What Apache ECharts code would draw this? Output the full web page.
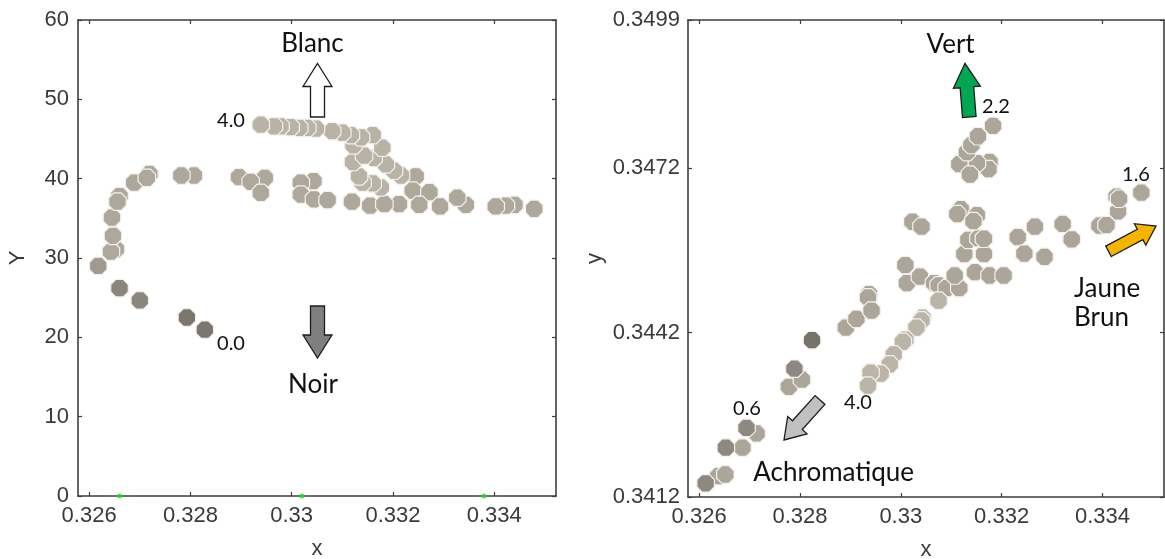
<!DOCTYPE html>
<html>
<head>
<meta charset="utf-8">
<script src="https://cdn.jsdelivr.net/npm/echarts@6/dist/echarts.min.js"></script>
<style>
  html, body { margin: 0; padding: 0; background: #ffffff; }
  #chart { width: 1165px; height: 559px; }
</style>
</head>
<body>
<div id="chart"></div>
<script>
// ---- tick labels ----
const xTicks = [0.326, 0.328, 0.33, 0.332, 0.334];
const yTicksRight = [0.3412, 0.3442, 0.3472, 0.3499];

// ---- left panel: luminance path (x, Y) ----
const leftDark = [[0.32793, 22.5], [0.328285, 20.96]];
const leftMid = [[0.3266, 26.2], [0.327, 24.65]];
const leftSoft = [[0.32618, 29.0]];
const leftBase = [
  [0.32653, 31.1], [0.32643, 30.8], [0.32647, 32.8], [0.32645, 35.1],
  [0.3266, 37.8], [0.32656, 37.1], [0.32689, 39.5], [0.32719, 40.6], [0.32714, 40.1],
  [0.32807, 40.4], [0.32782, 40.4], [0.32896, 40.2], [0.32947, 40.1], [0.32919, 39.6],
  [0.32939, 38.2], [0.33043, 39.7], [0.33018, 39.5], [0.33018, 38.0], [0.33044, 37.4],
  [0.33071, 37.3], [0.33119, 37.1], [0.33155, 36.6], [0.33212, 36.8], [0.33183, 36.8],
  [0.33245, 40.3], [0.33239, 38.5], [0.33272, 38.3], [0.33252, 36.7], [0.33293, 36.5],
  [0.33344, 36.7], [0.33327, 37.6], [0.33479, 36.2], [0.3344, 36.7], [0.33423, 36.6],
  [0.33403, 36.5]
];
const leftLight = [
  [0.33216, 40.4], [0.33202, 41.0], [0.33186, 41.8], [0.33176, 38.9], [0.3316, 39.4],
  [0.3314, 39.5], [0.33133, 40.3], [0.33121, 42.1], [0.33162, 42.6], [0.33143, 42.9],
  [0.33179, 43.9], [0.33122, 44.2], [0.3316, 45.5], [0.33137, 45.2], [0.33117, 45.5],
  [0.331, 45.8], [0.3308, 46.0], [0.33048, 46.3], [0.33031, 46.4], [0.33015, 46.4],
  [0.32998, 46.5], [0.32978, 46.6], [0.32965, 46.6], [0.32939, 46.8]
];
const leftAxisMarks = [[0.3266, 0], [0.3302, 0], [0.3338, 0]];

// ---- right panel: chromaticity path (x, y) ----
const rightDark = [[0.32824, 0.34406]];
const rightMid = [
  [0.32613, 0.34145], [0.32653, 0.3421], [0.32694, 0.34246], [0.32789, 0.34354]
];
const rightBase = [
  [0.32638, 0.34158], [0.32652, 0.34161], [0.32686, 0.3421], [0.32714, 0.34236],
  [0.32778, 0.34321], [0.32804, 0.34334], [0.32891, 0.34429], [0.32912, 0.34445],
  [0.32937, 0.3449], [0.32935, 0.34484], [0.32942, 0.3446], [0.33009, 0.34543],
  [0.33012, 0.3451], [0.33038, 0.34522], [0.33023, 0.34622], [0.33041, 0.34613],
  [0.33066, 0.3451], [0.33075, 0.34506], [0.33091, 0.34501], [0.33116, 0.34501],
  [0.33107, 0.34524], [0.33147, 0.3453], [0.33176, 0.34524], [0.33204, 0.34524],
  [0.33126, 0.34563], [0.33165, 0.34563], [0.33134, 0.34589], [0.33154, 0.34592],
  [0.33165, 0.34591], [0.33119, 0.34645], [0.33112, 0.34636], [0.33151, 0.34634],
  [0.33144, 0.34623], [0.33176, 0.34731], [0.33174, 0.34718], [0.33151, 0.34729],
  [0.33116, 0.34727], [0.33137, 0.34708], [0.33131, 0.34749], [0.3314, 0.34762],
  [0.33153, 0.34778], [0.33183, 0.34797],
  [0.33232, 0.34594], [0.33245, 0.34564], [0.33266, 0.34613], [0.33285, 0.34558],
  [0.33321, 0.34618], [0.33339, 0.3459], [0.33394, 0.34615], [0.33408, 0.34616],
  [0.33431, 0.34641], [0.33428, 0.34668], [0.33433, 0.34664], [0.33477, 0.34675]
];
const rightLight = [
  [0.33075, 0.34478], [0.33043, 0.34447], [0.33041, 0.34442], [0.33031, 0.34429],
  [0.33009, 0.34407], [0.33004, 0.34403], [0.32986, 0.3438], [0.32978, 0.34362],
  [0.3296, 0.34345], [0.3294, 0.34347], [0.32935, 0.34323]
];

// ---- styling ----
const AXIS_COLOR = '#3e3e3e';
const LABEL_COLOR = '#3a3a3a';
const LABEL_FONT = 'Liberation Sans';
const NOTE_FONT = 'Lato';
const OCTAGON = 'path://M29,0 L71,0 L100,29 L100,71 L71,100 L29,100 L0,71 L0,29 Z';
const X_MIN = 0.32578, X_MAX = 0.33522;

function frameAxis(gridIndex, pos, extra) {
  return Object.assign({
    type: 'value', gridIndex: gridIndex, position: pos,
    axisLine: { show: true, onZero: false, lineStyle: { color: AXIS_COLOR, width: 1.6 } },
    axisTick: { show: true, inside: true, length: 4, lineStyle: { color: AXIS_COLOR, width: 1.2 } },
    axisLabel: { show: false },
    splitLine: { show: false }
  }, extra);
}

function tickStyle(values) {
  const t = { show: true, inside: true, length: 4, lineStyle: { color: AXIS_COLOR, width: 1.2 } };
  if (values) t.customValues = values;
  return t;
}

const labelText = { color: LABEL_COLOR, fontFamily: LABEL_FONT, fontSize: 22 };

function xAxisPair(gridIndex) {
  return [
    frameAxis(gridIndex, 'bottom', {
      min: X_MIN, max: X_MAX,
      name: 'x', nameLocation: 'middle', nameGap: 42,
      nameTextStyle: labelText,
      axisTick: tickStyle(xTicks),
      axisLabel: Object.assign({ show: true, customValues: xTicks, margin: 9 }, labelText)
    }),
    frameAxis(gridIndex, 'top', {
      min: X_MIN, max: X_MAX,
      axisTick: tickStyle(xTicks)
    })
  ];
}

function scatter(data, color, gridIndex, z) {
  return {
    type: 'scatter', data: data, xAxisIndex: gridIndex * 2, yAxisIndex: gridIndex * 2,
    symbol: OCTAGON, symbolSize: 17.5,
    itemStyle: { color: color, borderColor: '#f4f1ec', borderWidth: 1.2, opacity: 1 },
    z: z || 2, silent: true, animation: false
  };
}

const chart = echarts.init(document.getElementById('chart'), null, { renderer: 'canvas' });

chart.setOption({
  backgroundColor: '#ffffff',
  animation: false,
  grid: [
    { left: 78, top: 20, width: 478, height: 476, outerBoundsMode: 'none', containLabel: false },
    { left: 688, top: 20, width: 476, height: 477, outerBoundsMode: 'none', containLabel: false }
  ],
  xAxis: [].concat(xAxisPair(0), xAxisPair(1)),
  yAxis: [
    frameAxis(0, 'left', {
      min: 0, max: 60, interval: 10,
      name: 'Y', nameLocation: 'middle', nameGap: 49,
      nameTextStyle: labelText,
      axisLabel: Object.assign({ show: true, margin: 9 }, labelText)
    }),
    frameAxis(0, 'right', { min: 0, max: 60, interval: 10 }),
    frameAxis(1, 'left', {
      min: 0.3412, max: 0.3499,
      name: 'y', nameLocation: 'middle', nameGap: 82,
      nameTextStyle: labelText,
      axisTick: tickStyle(yTicksRight),
      axisLabel: Object.assign({ show: true, customValues: yTicksRight, margin: 8,
        formatter: (v) => v.toFixed(4) }, labelText)
    }),
    frameAxis(1, 'right', {
      min: 0.3412, max: 0.3499,
      axisTick: tickStyle(yTicksRight)
    })
  ],
  series: [
    scatter(leftBase, '#aea79c', 0),
    scatter(leftSoft, '#a09a91', 0),
    scatter(leftMid, '#8a857d', 0),
    scatter(leftDark, '#7b766e', 0),
    scatter(leftLight, '#b9b2a7', 0, 3),
    {
      type: 'scatter', data: leftAxisMarks, xAxisIndex: 0, yAxisIndex: 0,
      symbol: 'circle', symbolSize: 5, itemStyle: { color: '#22e022' },
      clip: false, z: 5, silent: true, animation: false
    },
    scatter(rightBase, '#aca59a', 1),
    scatter(rightMid, '#8d8880', 1),
    scatter(rightDark, '#77726b', 1),
    scatter(rightLight, '#bbb4a9', 1, 3)
  ]
});

// ---- annotations: block arrows and text ----
function blockArrow(tail, tip, bodyHalf, headHalf, headLen) {
  const dx = tip[0] - tail[0], dy = tip[1] - tail[1];
  const len = Math.hypot(dx, dy);
  const ux = dx / len, uy = dy / len;
  const nx = -uy, ny = ux;
  const bx = tip[0] - ux * headLen, by = tip[1] - uy * headLen;
  return [
    [tail[0] + nx * bodyHalf, tail[1] + ny * bodyHalf],
    [bx + nx * bodyHalf, by + ny * bodyHalf],
    [bx + nx * headHalf, by + ny * headHalf],
    tip,
    [bx - nx * headHalf, by - ny * headHalf],
    [bx - nx * bodyHalf, by - ny * bodyHalf],
    [tail[0] - nx * bodyHalf, tail[1] - ny * bodyHalf]
  ];
}

function arrow(tail, tip, bodyHalf, headHalf, headLen, fill) {
  return {
    type: 'polygon', silent: true, z: 10,
    shape: { points: blockArrow(tail, tip, bodyHalf, headHalf, headLen) },
    style: { fill: fill, stroke: '#1c1c1c', lineWidth: 1.3, lineJoin: 'miter' }
  };
}

function note(text, x, y, size, align) {
  return {
    type: 'text', silent: true, z: 11, x: x, y: y,
    style: { text: text, fill: '#111111', font: size + 'px ' + NOTE_FONT, align: align || 'center', verticalAlign: 'middle' }
  };
}

chart.setOption({
  graphic: [
    arrow([317.5, 117], [317.5, 63.5], 7, 14.5, 23, '#ffffff'),
    arrow([317.5, 306], [317.5, 358], 7, 14.5, 23, '#7f7f7f'),
    arrow([969.3, 117], [965, 63.3], 6.8, 13.5, 24, '#00a651'),
    arrow([1108.5, 251.3], [1156, 226], 5.9, 12.2, 18, '#f5b400'),
    arrow([820, 400], [784, 440], 6.6, 13, 20, '#c0c0c0'),
    note('Blanc', 312.5, 44, 26),
    note('Noir', 313, 385, 26),
    note('4.0', 231, 121, 20),
    note('0.0', 231, 344, 20),
    note('Vert', 950.6, 45, 26),
    note('2.2', 996, 107, 20),
    note('1.6', 1136, 175, 20),
    note('Jaune', 1074, 288.5, 26, 'left'),
    note('Brun', 1074, 317.5, 26, 'left'),
    note('0.6', 747, 409, 20),
    note('4.0', 858, 403, 20),
    note('Achromatique', 833.7, 473, 26)
  ]
});
</script>
</body>
</html>
